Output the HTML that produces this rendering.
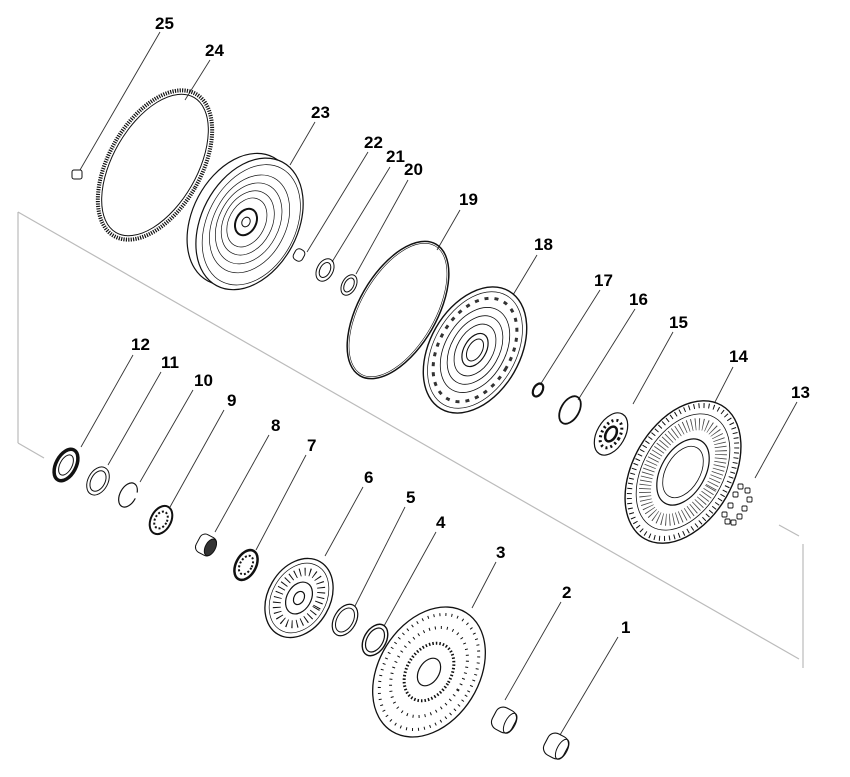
<!DOCTYPE html>
<html><head><meta charset="utf-8"><style>
html,body{margin:0;padding:0;background:#fff;}
svg{display:block;}
text{font-family:"Liberation Sans",Arial,sans-serif;font-weight:bold;font-size:17px;fill:#000;}
</style></head><body>
<svg width="850" height="777" viewBox="0 0 850 777" xmlns="http://www.w3.org/2000/svg">
<!-- frame -->
<g stroke="#bbb" stroke-width="1.2" fill="none">
<line x1="18" y1="212" x2="799" y2="659"/>
<line x1="18" y1="212" x2="18" y2="443"/>
<line x1="18" y1="443" x2="44" y2="458"/>
<line x1="779" y1="525" x2="799" y2="536"/>
<line x1="803" y1="544" x2="803" y2="668"/>
</g>
<!-- leader lines -->
<g stroke="#333" stroke-width="0.9">
<line x1="160" y1="32" x2="80" y2="170"/>
<line x1="210" y1="60" x2="185" y2="100"/>
<line x1="315" y1="122" x2="290" y2="165"/>
<line x1="368" y1="152" x2="307" y2="252"/>
<line x1="390" y1="167" x2="332" y2="262"/>
<line x1="408" y1="180" x2="356" y2="274"/>
<line x1="460" y1="210" x2="437" y2="250"/>
<line x1="537" y1="255" x2="513" y2="295"/>
<line x1="600" y1="290" x2="540" y2="385"/>
<line x1="635" y1="309" x2="578" y2="400"/>
<line x1="673" y1="332" x2="633" y2="404"/>
<line x1="733" y1="367" x2="715" y2="402"/>
<line x1="797" y1="402" x2="755" y2="478"/>
<line x1="133" y1="355" x2="81" y2="447"/>
<line x1="161" y1="372" x2="108" y2="465"/>
<line x1="193" y1="390" x2="140" y2="482"/>
<line x1="224" y1="410" x2="170" y2="507"/>
<line x1="269" y1="435" x2="215" y2="532"/>
<line x1="306" y1="455" x2="256" y2="550"/>
<line x1="363" y1="487" x2="325" y2="556"/>
<line x1="405" y1="507" x2="355" y2="606"/>
<line x1="436" y1="532" x2="384" y2="626"/>
<line x1="496" y1="562" x2="472" y2="608"/>
<line x1="561" y1="602" x2="505" y2="700"/>
<line x1="618" y1="637" x2="560" y2="735"/>
</g>
<!-- labels -->
<text x="155" y="29">25</text>
<text x="205" y="56">24</text>
<text x="311" y="118">23</text>
<text x="364" y="148">22</text>
<text x="386" y="162">21</text>
<text x="404" y="175">20</text>
<text x="459" y="205">19</text>
<text x="534" y="250">18</text>
<text x="594" y="286">17</text>
<text x="629" y="305">16</text>
<text x="669" y="328">15</text>
<text x="729" y="362">14</text>
<text x="791" y="398">13</text>
<text x="131" y="350">12</text>
<text x="161" y="368">11</text>
<text x="194" y="386">10</text>
<text x="227" y="406">9</text>
<text x="271" y="431">8</text>
<text x="307" y="451">7</text>
<text x="364" y="483">6</text>
<text x="406" y="503">5</text>
<text x="436" y="528">4</text>
<text x="496" y="558">3</text>
<text x="562" y="598">2</text>
<text x="621" y="633">1</text>
<g fill="none" stroke="#111">
<!-- 25 nut -->
<rect x="72" y="170" width="10" height="9" rx="2" stroke-width="1"/>
<!-- 24 ring gear -->
<g transform="translate(155,165) rotate(30)">
<ellipse rx="42" ry="78" stroke-width="1"/>
<ellipse rx="46" ry="82" stroke-width="4" stroke-dasharray="1.2 1.2"/>
</g>
<!-- 23 flywheel -->
<g transform="translate(246,222) rotate(28)">
<ellipse cx="-6" cy="0" rx="48" ry="70" fill="#fff" stroke-width="1.2"/>
<ellipse cx="4" cy="0" rx="48" ry="70" fill="#fff" stroke-width="1.2"/>
<ellipse cx="6" cy="0" rx="44" ry="64" stroke-width="0.7"/>
<ellipse cx="4" cy="0" rx="36" ry="52" stroke-width="0.7"/>
<ellipse cx="3" cy="0" rx="30" ry="43" stroke-width="0.7"/>
<ellipse cx="2" cy="0" rx="24" ry="34" stroke-width="0.7"/>
<ellipse cx="1" cy="0" rx="18" ry="26" stroke-width="0.7"/>
<ellipse cx="0" cy="0" rx="10" ry="14" stroke-width="2"/>
<ellipse cx="0" cy="0" rx="4" ry="5" stroke-width="1"/>
</g>
<!-- 22 -->
<g transform="translate(299,255) rotate(28)"><rect x="-5" y="-6" width="10" height="12" rx="4" stroke-width="1"/></g>
<!-- 21 -->
<g transform="translate(325,270) rotate(28)"><ellipse rx="8" ry="12" stroke-width="1"/><ellipse rx="5" ry="8" stroke-width="1"/></g>
<!-- 20 -->
<g transform="translate(349,285) rotate(28)"><ellipse rx="7" ry="11" stroke-width="1"/><ellipse rx="4.5" ry="7.5" stroke-width="1"/></g>
<!-- 19 O-ring -->
<g transform="translate(398,310) rotate(30)"><ellipse rx="39" ry="76" stroke-width="1.5"/><ellipse rx="37" ry="74" stroke-width="0.6"/></g>
<!-- 18 cover -->
<g transform="translate(475,350) rotate(30)">
<ellipse rx="45" ry="68" fill="#fff" stroke-width="1.4"/>
<ellipse rx="41" ry="63" stroke-width="0.7"/>
<ellipse rx="36" ry="56" stroke-width="3" stroke-dasharray="4 6" stroke="#333"/>
<ellipse rx="30" ry="46" stroke-width="0.8"/>
<ellipse rx="24" ry="37" stroke-width="0.8"/>
<ellipse rx="18" ry="28" stroke-width="0.8"/>
<ellipse rx="11" ry="18" stroke-width="1.2"/>
<ellipse rx="7" ry="12" stroke-width="1"/>
</g>
<!-- 17 -->
<g transform="translate(538,390) rotate(30)"><ellipse rx="4.5" ry="7" stroke-width="2.2"/></g>
<!-- 16 -->
<g transform="translate(570,410) rotate(30)"><ellipse rx="9" ry="15" stroke-width="1.8"/></g>
<!-- 15 -->
<g transform="translate(611,434) rotate(30)">
<ellipse rx="14" ry="23" fill="#fff" stroke-width="1.2"/>
<ellipse rx="9" ry="15" stroke-width="3" stroke-dasharray="2 3"/>
<ellipse rx="5" ry="8" stroke-width="2.5"/>
</g>
<!-- 14 turbine -->
<g transform="translate(683,472) rotate(30)">
<ellipse rx="50" ry="77" fill="#fff" stroke-width="1.4"/>
<ellipse rx="46" ry="72" stroke-width="5" stroke-dasharray="1 4"/>
<ellipse rx="40" ry="63" stroke-width="0.8"/>
<ellipse rx="32" ry="52" stroke-width="12" stroke-dasharray="0.8 3" stroke="#444"/>
<ellipse rx="22" ry="36" stroke-width="1.2"/>
<ellipse rx="17" ry="28" stroke-width="0.8"/>
</g>
<!-- 13 bolts -->
<g stroke-width="0.9">
<rect x="738" y="484" width="5" height="5" rx="1"/><rect x="745" y="488" width="5" height="5" rx="1"/>
<rect x="733" y="492" width="5" height="5" rx="1"/><rect x="747" y="497" width="5" height="5" rx="1"/>
<rect x="728" y="503" width="5" height="5" rx="1"/><rect x="742" y="506" width="5" height="5" rx="1"/>
<rect x="722" y="512" width="5" height="5" rx="1"/><rect x="737" y="514" width="5" height="5" rx="1"/>
<rect x="725" y="519" width="5" height="5" rx="1"/><rect x="731" y="520" width="5" height="5" rx="1"/>
</g>
<!-- 12 -->
<g transform="translate(66,465) rotate(28)"><ellipse rx="10" ry="17" stroke-width="3.5"/><ellipse rx="6" ry="11" stroke-width="1"/></g>
<!-- 11 -->
<g transform="translate(98,481) rotate(28)"><ellipse rx="10" ry="15" stroke-width="1"/><ellipse rx="7" ry="11" stroke-width="1"/></g>
<!-- 10 -->
<g transform="translate(128,495) rotate(28)"><ellipse rx="8" ry="13" stroke-width="1.2" stroke-dasharray="60 6"/></g>
<!-- 9 -->
<g transform="translate(161,520) rotate(28)"><ellipse rx="10" ry="15" stroke-width="2"/><ellipse rx="6" ry="9" stroke-width="2" stroke-dasharray="2 2"/></g>
<!-- 8 -->
<g transform="translate(206,545) rotate(28)"><rect x="-9" y="-10" width="18" height="20" rx="6" stroke-width="1"/><ellipse cx="5" rx="5" ry="9" fill="#333"/></g>
<!-- 7 -->
<g transform="translate(246,565) rotate(28)"><ellipse rx="10" ry="16" stroke-width="2.5"/><ellipse rx="6" ry="10" stroke-width="2" stroke-dasharray="2 2"/></g>
<!-- 6 stator -->
<g transform="translate(299,598) rotate(30)">
<ellipse rx="31" ry="42" fill="#fff" stroke-width="1.3"/>
<ellipse rx="27" ry="37" stroke-width="0.7"/>
<ellipse rx="20" ry="28" stroke-width="8" stroke-dasharray="1 4"/>
<ellipse rx="12" ry="17" stroke-width="1.2"/>
<ellipse rx="5" ry="7" stroke-width="1.2"/>
</g>
<!-- 5 -->
<g transform="translate(345,620) rotate(30)"><ellipse rx="11" ry="17" stroke-width="1.2"/><ellipse rx="8" ry="13" stroke-width="1"/></g>
<!-- 4 -->
<g transform="translate(375,640) rotate(30)"><ellipse rx="11" ry="17" stroke-width="1.4"/><ellipse rx="8" ry="13" stroke-width="1.2"/></g>
<!-- 3 impeller -->
<g transform="translate(429,672) rotate(32)">
<ellipse rx="50" ry="70" fill="#fff" stroke-width="1.3"/>
<ellipse rx="44" ry="62" stroke-width="3" stroke-dasharray="1 5"/>
<ellipse rx="34" ry="48" stroke-width="3" stroke-dasharray="1 5"/>
<ellipse rx="22" ry="31" stroke-width="3" stroke-dasharray="1.5 2"/>
<ellipse rx="10" ry="15" stroke-width="1.2"/>
</g>
<!-- 2 -->
<g transform="translate(504,720) rotate(28)"><rect x="-11" y="-12" width="22" height="24" rx="8" stroke-width="1.1"/><ellipse cx="7" rx="5" ry="11" stroke-width="1"/></g>
<!-- 1 -->
<g transform="translate(556,746) rotate(28)"><rect x="-11" y="-12" width="22" height="24" rx="8" stroke-width="1.1"/><ellipse cx="7" rx="5" ry="11" stroke-width="1"/></g>
</g>
</svg>
</body></html>
